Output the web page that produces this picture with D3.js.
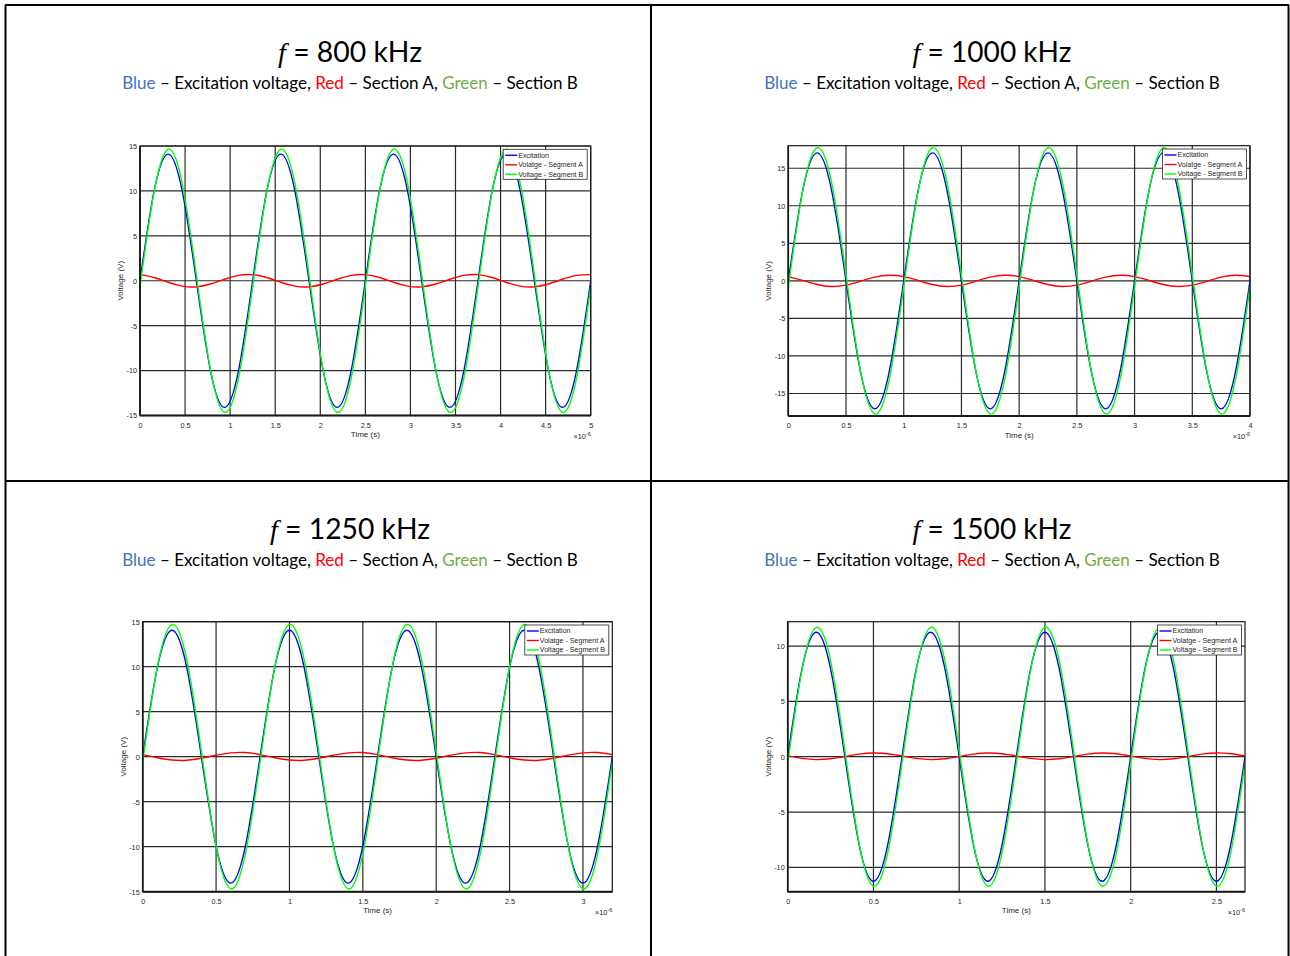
<!DOCTYPE html>
<html><head><meta charset="utf-8">
<script src="https://cdn.jsdelivr.net/npm/d3@7"></script>
<style>
body{margin:0;background:#fff;}
svg{display:block;}
</style></head><body>
<svg id="c" width="1290" height="956"></svg>
<script>
// Sample positions, in cycles of the excitation signal (four cycles shown per plot)
const cycles = [0,0.125,0.25,0.375,0.5,0.625,0.75,0.875,1,1.125,1.25,1.375,1.5,1.625,1.75,1.875,2,2.125,2.25,2.375,2.5,2.625,2.75,2.875,3,3.125,3.25,3.375,3.5,3.625,3.75,3.875,4];

const frequenciesKHz = [800, 1000, 1250, 1500];

// Measured voltages (V) at each sample position
const excitation800 = [0,9.97,14.1,9.97,0,-9.97,-14.1,-9.97,0,9.97,14.1,9.97,0,-9.97,-14.1,-9.97,0,9.97,14.1,9.97,0,-9.97,-14.1,-9.97,0,9.97,14.1,9.97,0,-9.97,-14.1,-9.97,0];
const segmentA800 = [0.68,0.36,-0.17,-0.6,-0.68,-0.36,0.17,0.6,0.68,0.36,-0.17,-0.6,-0.68,-0.36,0.17,0.6,0.68,0.36,-0.17,-0.6,-0.68,-0.36,0.17,0.6,0.68,0.36,-0.17,-0.6,-0.68,-0.36,0.17,0.6,0.68];
const segmentB800 = [-0.66,9.88,14.64,10.82,0.66,-9.88,-14.64,-10.82,-0.66,9.88,14.64,10.82,0.66,-9.88,-14.64,-10.82,-0.66,9.88,14.64,10.82,0.66,-9.88,-14.64,-10.82,-0.66,9.88,14.64,10.82,0.66,-9.88,-14.64,-10.82,-0.66];

const excitation1000 = [0,12.06,17.05,12.06,0,-12.06,-17.05,-12.06,0,12.06,17.05,12.06,0,-12.06,-17.05,-12.06,0,12.06,17.05,12.06,0,-12.06,-17.05,-12.06,0,12.06,17.05,12.06,0,-12.06,-17.05,-12.06,0];
const segmentA1000 = [0.57,0.06,-0.49,-0.75,-0.57,-0.06,0.49,0.75,0.57,0.06,-0.49,-0.75,-0.57,-0.06,0.49,0.75,0.57,0.06,-0.49,-0.75,-0.57,-0.06,0.49,0.75,0.57,0.06,-0.49,-0.75,-0.57,-0.06,0.49,0.75,0.57];
const segmentB1000 = [-0.8,11.97,17.73,13.1,0.8,-11.97,-17.73,-13.1,-0.8,11.97,17.73,13.1,0.8,-11.97,-17.73,-13.1,-0.8,11.97,17.73,13.1,0.8,-11.97,-17.73,-13.1,-0.8,11.97,17.73,13.1,0.8,-11.97,-17.73,-13.1,-0.8];

const excitation1250 = [0,9.93,14.05,9.93,0,-9.93,-14.05,-9.93,0,9.93,14.05,9.93,0,-9.93,-14.05,-9.93,0,9.93,14.05,9.93,0,-9.93,-14.05,-9.93,0,9.93,14.05,9.93,0,-9.93,-14.05,-9.93,0];
const segmentA1250 = [0.23,-0.11,-0.37,-0.4,-0.17,0.17,0.43,0.46,0.23,-0.11,-0.37,-0.4,-0.17,0.17,0.43,0.46,0.23,-0.11,-0.37,-0.4,-0.17,0.17,0.43,0.46,0.23,-0.11,-0.37,-0.4,-0.17,0.17,0.43,0.46,0.23];
const segmentB1250 = [-0.59,9.97,14.69,10.8,0.59,-9.97,-14.69,-10.8,-0.59,9.97,14.69,10.8,0.59,-9.97,-14.69,-10.8,-0.59,9.97,14.69,10.8,0.59,-9.97,-14.69,-10.8,-0.59,9.97,14.69,10.8,0.59,-9.97,-14.69,-10.8,-0.59];

const excitation1500 = [0,7.96,11.25,7.96,0,-7.96,-11.25,-7.96,0,7.96,11.25,7.96,0,-7.96,-11.25,-7.96,0,7.96,11.25,7.96,0,-7.96,-11.25,-7.96,0,7.96,11.25,7.96,0,-7.96,-11.25,-7.96,0];
const segmentA1500 = [0.07,-0.15,-0.26,-0.19,0.01,0.23,0.34,0.27,0.07,-0.15,-0.26,-0.19,0.01,0.23,0.34,0.27,0.07,-0.15,-0.26,-0.19,0.01,0.23,0.34,0.27,0.07,-0.15,-0.26,-0.19,0.01,0.23,0.34,0.27,0.07];
const segmentB1500 = [-0.59,7.85,11.69,8.68,0.59,-7.85,-11.69,-8.68,-0.59,7.85,11.69,8.68,0.59,-7.85,-11.69,-8.68,-0.59,7.85,11.69,8.68,0.59,-7.85,-11.69,-8.68,-0.59,7.85,11.69,8.68,0.59,-7.85,-11.69,-8.68,-0.59];

// Axis limits and tick values
const yLimits = [15, 18, 15, 12.2];
const xTicks800 = [0,0.5,1,1.5,2,2.5,3,3.5,4,4.5,5];
const xTicks1000 = [0,0.5,1,1.5,2,2.5,3,3.5,4];
const xTicks1250 = [0,0.5,1,1.5,2,2.5,3];
const xTicks1500 = [0,0.5,1,1.5,2,2.5];
const yTicks15 = [-15,-10,-5,0,5,10,15];
const yTicks10 = [-10,-5,0,5,10];

const legendLabels = ["Excitation", "Volatge - Segment A", "Voltage - Segment B"];
const seriesColors = ["#0000FF", "#FF0000", "#00FF00"];
const subtitleParts = [
  {text: "Blue", color: "#4472C4"},
  {text: " \u2013 Excitation voltage, ", color: "#000"},
  {text: "Red", color: "#FF0000"},
  {text: " \u2013 Section A, ", color: "#000"},
  {text: "Green", color: "#70AD47"},
  {text: " \u2013 Section B", color: "#000"}
];

const panels = [
  {f: frequenciesKHz[0], series: [excitation800, segmentA800, segmentB800], ylim: yLimits[0], xTicks: xTicks800, yTicks: yTicks15,
   box: {x0: 140, x1: 590.7, y0: 146, y1: 415.5}, cx: 350, ty: 62, titleW: 144},
  {f: frequenciesKHz[1], series: [excitation1000, segmentA1000, segmentB1000], ylim: yLimits[1], xTicks: xTicks1000, yTicks: yTicks15,
   box: {x0: 788.3, x1: 1250, y0: 145.7, y1: 416}, cx: 992, ty: 62, titleW: 159},
  {f: frequenciesKHz[2], series: [excitation1250, segmentA1250, segmentB1250], ylim: yLimits[2], xTicks: xTicks1250, yTicks: yTicks15,
   box: {x0: 142.7, x1: 612.3, y0: 621.7, y1: 891.7}, cx: 350, ty: 539, titleW: 160},
  {f: frequenciesKHz[3], series: [excitation1500, segmentA1500, segmentB1500], ylim: yLimits[3], xTicks: xTicks1500, yTicks: yTicks10,
   box: {x0: 787.7, x1: 1245, y0: 621.7, y1: 891.7}, cx: 992, ty: 539, titleW: 159}
];

const svg = d3.select("#c");
const tickFont = "'Liberation Sans', Arial, sans-serif";
const titleFont = "Lato, 'Open Sans', sans-serif";

// Slide-style frame dividing the four panels
const frame = svg.append("g").attr("stroke", "#000").attr("stroke-width", 2);
[[5, 5, 1289, 5], [5, 481, 1289, 481], [5.5, 5, 5.5, 956], [651, 5, 651, 956], [1288.5, 5, 1288.5, 956]]
  .forEach(([x1, y1, x2, y2]) => frame.append("line").attr("x1", x1).attr("y1", y1).attr("x2", x2).attr("y2", y2));

// Fit a text element horizontally to a given width by scaling its font size
function fitWidth(sel, base, target) {
  const w = sel.node().getComputedTextLength();
  sel.attr("font-size", base * target / w);
}

panels.forEach((p, i) => {
  const g = svg.append("g");
  const b = p.box;
  const xMax = 4 / p.f * 1000; // microseconds for four cycles
  const x = d3.scaleLinear().domain([0, xMax]).range([b.x0, b.x1]);
  const y = d3.scaleLinear().domain([-p.ylim, p.ylim]).range([b.y1, b.y0]);

  // Title and colour key
  const title = g.append("text").attr("x", p.cx).attr("y", p.ty).attr("text-anchor", "middle")
    .attr("font-family", titleFont).attr("font-size", 32).attr("fill", "#000");
  title.append("tspan").attr("font-family", "'Liberation Serif', serif").attr("font-style", "italic").text("f");
  title.append("tspan").text(" = " + p.f + " kHz");
  fitWidth(title, 32, p.titleW);

  const sub = g.append("text").attr("x", p.cx).attr("y", p.ty + 27).attr("text-anchor", "middle")
    .attr("font-family", titleFont).attr("font-size", 18);
  subtitleParts.forEach(s => sub.append("tspan").attr("fill", s.color).text(s.text));
  fitWidth(sub, 18, 456);

  // Plot background
  g.append("rect").attr("x", b.x0).attr("y", b.y0).attr("width", b.x1 - b.x0).attr("height", b.y1 - b.y0).attr("fill", "#fff");

  // Grid
  const grid = g.append("g").attr("stroke", "#2a2a2a").attr("stroke-width", 1.2);
  p.xTicks.forEach(t => grid.append("line").attr("x1", x(t)).attr("x2", x(t)).attr("y1", b.y0).attr("y2", b.y1));
  p.yTicks.forEach(t => grid.append("line").attr("y1", y(t)).attr("y2", y(t)).attr("x1", b.x0).attr("x2", b.x1));

  // Axes with tick labels
  const xAxis = d3.axisBottom(x).tickValues(p.xTicks).tickSize(0).tickPadding(7).tickFormat(d => String(d));
  const yAxis = d3.axisLeft(y).tickValues(p.yTicks).tickSize(0).tickPadding(3).tickFormat(d => String(d));
  const gx = g.append("g").attr("transform", `translate(0,${b.y1})`).call(xAxis);
  const gy = g.append("g").attr("transform", `translate(${b.x0},0)`).call(yAxis);
  [gx, gy].forEach(a => {
    a.select(".domain").remove();
    a.selectAll("text").attr("font-family", tickFont).attr("font-size", 7.3).attr("fill", "#262626");
  });

  // Signals
  const clipId = "clip" + i;
  g.append("clipPath").attr("id", clipId).append("rect")
    .attr("x", b.x0).attr("y", b.y0).attr("width", b.x1 - b.x0).attr("height", b.y1 - b.y0);
  const line = d3.line().x(d => x(d[0] / p.f * 1000)).y(d => y(d[1])).curve(d3.curveNatural);
  p.series.forEach((vals, k) => {
    g.append("path").attr("clip-path", `url(#${clipId})`)
      .attr("d", line(cycles.map((c, j) => [c, vals[j]])))
      .attr("fill", "none").attr("stroke", seriesColors[k]).attr("stroke-width", 1.4);
  });

  // Axes box
  g.append("rect").attr("x", b.x0).attr("y", b.y0).attr("width", b.x1 - b.x0).attr("height", b.y1 - b.y0)
    .attr("fill", "none").attr("stroke", "#1a1a1a").attr("stroke-width", 1.2);
  g.append("line").attr("x1", b.x0).attr("x2", b.x1).attr("y1", b.y1).attr("y2", b.y1).attr("stroke", "#1a1a1a").attr("stroke-width", 2);
  g.append("line").attr("x1", b.x0).attr("x2", b.x0).attr("y1", b.y0).attr("y2", b.y1).attr("stroke", "#1a1a1a").attr("stroke-width", 1.6);

  // Axis labels
  g.append("text").attr("x", (b.x0 + b.x1) / 2).attr("y", b.y1 + 21.5).attr("text-anchor", "middle")
    .attr("font-family", tickFont).attr("font-size", 8).attr("fill", "#262626").text("Time (s)");
  g.append("text").attr("transform", `translate(${b.x0 - 17},${(b.y0 + b.y1) / 2}) rotate(-90)`)
    .attr("text-anchor", "middle").attr("font-family", tickFont).attr("font-size", 8).attr("fill", "#262626").text("Voltage (V)");
  const exp = g.append("text").attr("x", b.x1).attr("y", b.y1 + 23).attr("text-anchor", "end")
    .attr("font-family", tickFont).attr("font-size", 7.3).attr("fill", "#262626");
  exp.append("tspan").text("\u00d710");
  exp.append("tspan").attr("dy", -3).attr("font-size", 5.5).text("-6");

  // Legend
  const lw = 84, lh = 30;
  const lx = b.x1 - 3.5 - lw, ly = b.y0 + 3.3;
  const lg = g.append("g");
  lg.append("rect").attr("x", lx).attr("y", ly).attr("width", lw).attr("height", lh)
    .attr("fill", "#fff").attr("stroke", "#262626").attr("stroke-width", 0.8);
  legendLabels.forEach((lab, k) => {
    const cy = ly + 6 + k * 9.5;
    lg.append("line").attr("x1", lx + 2).attr("x2", lx + 14).attr("y1", cy).attr("y2", cy)
      .attr("stroke", seriesColors[k]).attr("stroke-width", 1.4);
    lg.append("text").attr("x", lx + 15).attr("y", cy).attr("dy", "0.35em")
      .attr("font-family", tickFont).attr("font-size", 7.1).attr("fill", "#262626").text(lab);
  });
});
</script>
</body></html>
